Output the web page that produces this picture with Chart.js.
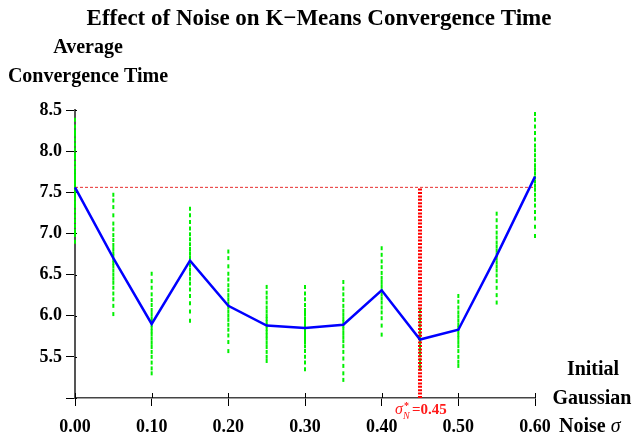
<!DOCTYPE html>
<html>
<head>
<meta charset="utf-8">
<script src="https://cdn.jsdelivr.net/npm/chart.js@4"></script>
<style>
  html, body { margin: 0; padding: 0; background: #fff; }
  #wrap { width: 635px; height: 435px; }
</style>
</head>
<body>
<div id="wrap"><canvas id="chart1" width="635" height="435"></canvas></div>
<script>
// noise levels and the average convergence time per level
const sigmas = [0.00, 0.05, 0.10, 0.15, 0.20, 0.25, 0.30, 0.35, 0.40, 0.45, 0.50, 0.55, 0.60];
const avgTime = [7.56, 6.70, 5.90, 6.67, 6.12, 5.88, 5.85, 5.89, 6.31, 5.71, 5.83, 6.73, 7.69];

// individual runs (green dots), one list per noise level
const runTimes = [
    [8.38, 8.30, 8.24, 8.20, 8.14, 8.08, 8.02, 7.96, 7.92, 7.86, 7.80, 7.75, 7.70, 7.66, 7.62, 7.58, 7.55, 7.51, 7.47, 7.43, 7.38, 7.33, 7.27, 7.21, 7.15, 7.09, 7.03, 6.98, 6.90],
    [7.47, 7.40, 7.32, 7.22, 7.12, 7.05, 6.98, 6.92, 6.86, 6.81, 6.76, 6.72, 6.68, 6.64, 6.60, 6.55, 6.50, 6.45, 6.40, 6.34, 6.27, 6.20, 6.12, 6.02],
    [6.51, 6.42, 6.34, 6.26, 6.19, 6.13, 6.07, 6.02, 5.97, 5.93, 5.89, 5.85, 5.81, 5.77, 5.72, 5.67, 5.62, 5.56, 5.50, 5.43, 5.36, 5.30],
    [7.30, 7.22, 7.14, 7.06, 6.99, 6.93, 6.87, 6.81, 6.76, 6.71, 6.66, 6.61, 6.56, 6.51, 6.45, 6.39, 6.32, 6.24, 6.15, 6.05, 5.94],
    [6.78, 6.70, 6.60, 6.51, 6.44, 6.37, 6.31, 6.25, 6.20, 6.15, 6.10, 6.05, 6.00, 5.95, 5.89, 5.83, 5.76, 5.68, 5.57],
    [6.35, 6.28, 6.22, 6.16, 6.10, 6.05, 6.00, 5.96, 5.92, 5.88, 5.84, 5.80, 5.76, 5.72, 5.67, 5.62, 5.56, 5.50, 5.45],
    [6.35, 6.27, 6.20, 6.13, 6.07, 6.02, 5.97, 5.93, 5.89, 5.85, 5.81, 5.77, 5.73, 5.68, 5.63, 5.57, 5.50, 5.43, 5.35],
    [6.41, 6.33, 6.26, 6.19, 6.12, 6.06, 6.01, 5.96, 5.92, 5.88, 5.84, 5.79, 5.74, 5.69, 5.63, 5.56, 5.48, 5.39, 5.30, 5.22],
    [6.82, 6.74, 6.66, 6.59, 6.52, 6.46, 6.41, 6.36, 6.31, 6.26, 6.21, 6.16, 6.10, 6.04, 5.97, 5.88, 5.77],
    [6.07, 6.00, 5.94, 5.88, 5.83, 5.78, 5.74, 5.70, 5.66, 5.62, 5.57, 5.52, 5.46, 5.40, 5.36],
    [6.24, 6.17, 6.10, 6.04, 5.99, 5.94, 5.89, 5.85, 5.81, 5.77, 5.73, 5.68, 5.63, 5.57, 5.50, 5.44, 5.39],
    [7.24, 7.16, 7.08, 7.01, 6.95, 6.89, 6.84, 6.79, 6.74, 6.70, 6.65, 6.60, 6.55, 6.49, 6.42, 6.34, 6.25, 6.16],
    [8.45, 8.38, 8.30, 8.22, 8.14, 8.07, 8.01, 7.95, 7.89, 7.83, 7.78, 7.73, 7.68, 7.63, 7.58, 7.53, 7.47, 7.41, 7.34, 7.26, 7.18, 7.08, 6.97]
];

// best noise level and the no-noise baseline
const bestSigma = 0.45;
const baseline = 7.56;
const yTicks = [5.0, 5.5, 6.0, 6.5, 7.0, 7.5, 8.0, 8.5];
const xTicks = [0.00, 0.10, 0.20, 0.30, 0.40, 0.50, 0.60];

const serif = "'Liberation Serif', 'Times New Roman', serif";

const points = [];
runTimes.forEach((runs, i) => {
    runs.forEach(v => points.push({x: sigmas[i], y: v}));
});

// texts drawn around the plot, plus the small inner tick stubs
const textPlugin = {
    id: "texts",
    beforeDatasetsDraw(chart) {
        const ctx = chart.ctx;
        const xs = chart.scales.x, ys = chart.scales.y;
        const a = chart.chartArea;
        ctx.save();
        ctx.strokeStyle = "#000";
        ctx.lineWidth = 1;
        xTicks.forEach(v => {
            const px = Math.round(xs.getPixelForValue(v)) + 0.5;
            ctx.beginPath(); ctx.moveTo(px, a.bottom); ctx.lineTo(px, a.bottom - 5); ctx.stroke();
        });
        yTicks.forEach(v => {
            const py = Math.round(ys.getPixelForValue(v)) + 0.5;
            ctx.beginPath(); ctx.moveTo(a.left, py); ctx.lineTo(a.left + 2, py); ctx.stroke();
        });
        ctx.restore();
    },
    afterDraw(chart) {
        const ctx = chart.ctx;
        ctx.save();
        ctx.fillStyle = "#000";
        ctx.textAlign = "center";
        ctx.textBaseline = "middle";
        ctx.font = "bold 23px " + serif;
        ctx.fillText("Effect of Noise on K\u2212Means Convergence Time", 319, 19);
        ctx.font = "bold 20px " + serif;
        ctx.fillText("Average", 88, 48);
        ctx.fillText("Convergence Time", 88, 77);
        ctx.fillText("Initial", 593, 370);
        ctx.fillText("Gaussian", 592, 399);
        ctx.textAlign = "left";
        ctx.fillText("Noise ", 559, 427);
        const w = ctx.measureText("Noise ").width;
        ctx.font = "italic 20px " + serif;
        ctx.fillText("\u03C3", 559 + w, 427);

        // label of the best sigma
        const xs = chart.scales.x.getPixelForValue(bestSigma);
        ctx.fillStyle = "#ff1a1a";
        ctx.textBaseline = "alphabetic";
        ctx.font = "italic 16px " + serif;
        ctx.fillText("\u03C3", xs - 25, 414);
        ctx.font = "bold 10px " + serif;
        ctx.fillText("*", xs - 16, 409);
        ctx.font = "italic 10px " + serif;
        ctx.fillText("N", xs - 17, 419);
        ctx.font = "bold 15px " + serif;
        ctx.fillText("=0.45", xs - 8, 414);
        ctx.restore();
    }
};

new Chart("chart1", {
    type: "scatter",
    data: {
        datasets: [
            {
                label: "Average",
                type: "line",
                data: sigmas.map((s, i) => ({x: s, y: avgTime[i]})),
                borderColor: "#0000ff",
                borderWidth: 2.5,
                pointRadius: 0,
                tension: 0,
                clip: false,
                order: 0
            },
            {
                label: "best",
                type: "line",
                data: [{x: bestSigma, y: 5.0}, {x: bestSigma, y: baseline}],
                borderColor: "#ff0000",
                borderWidth: 4,
                borderDash: [2, 1.4],
                pointRadius: 0,
                clip: false,
                order: 1
            },
            {
                label: "baseline",
                type: "line",
                data: [{x: 0, y: baseline}, {x: 0.6, y: baseline}],
                borderColor: "#e83030",
                borderWidth: 1,
                borderDash: [3, 2],
                pointRadius: 0,
                clip: false,
                order: 1
            },
            {
                label: "Runs",
                data: points,
                borderColor: "#00f000",
                backgroundColor: "#00f000",
                borderWidth: 2,
                pointStyle: "line",
                rotation: 90,
                pointRadius: 2,
                clip: false,
                order: 2
            }
        ]
    },
    plugins: [textPlugin],
    options: {
        responsive: false,
        animation: false,
        layout: {padding: {top: 110, right: 100, left: 0, bottom: 0}},
        plugins: {legend: {display: false}, tooltip: {enabled: false}},
        scales: {
            x: {
                type: "linear",
                min: 0, max: 0.6,
                afterBuildTicks: s => { s.ticks = xTicks.map(v => ({value: v})); },
                afterFit: s => { s.height = 37; },
                border: {display: true, color: "#444", width: 1.5},
                grid: {drawOnChartArea: false, drawTicks: true, tickLength: 8, color: "#000"},
                ticks: {
                    color: "#000",
                    padding: 11,
                    font: {family: serif, size: 18, weight: "bold"},
                    callback: v => v.toFixed(2)
                }
            },
            y: {
                type: "linear",
                min: 5, max: 8.5,
                afterBuildTicks: s => { s.ticks = yTicks.map(v => ({value: v})); },
                afterFit: s => { s.width = 75; },
                border: {display: true, color: "#555", width: 2},
                grid: {drawOnChartArea: false, drawTicks: true, tickLength: 9, color: "#000"},
                ticks: {
                    color: "#000",
                    padding: 4,
                    font: {family: serif, size: 18, weight: "bold"},
                    callback: v => v === 5 ? "" : v.toFixed(1)
                }
            }
        }
    }
});
</script>
</body>
</html>
